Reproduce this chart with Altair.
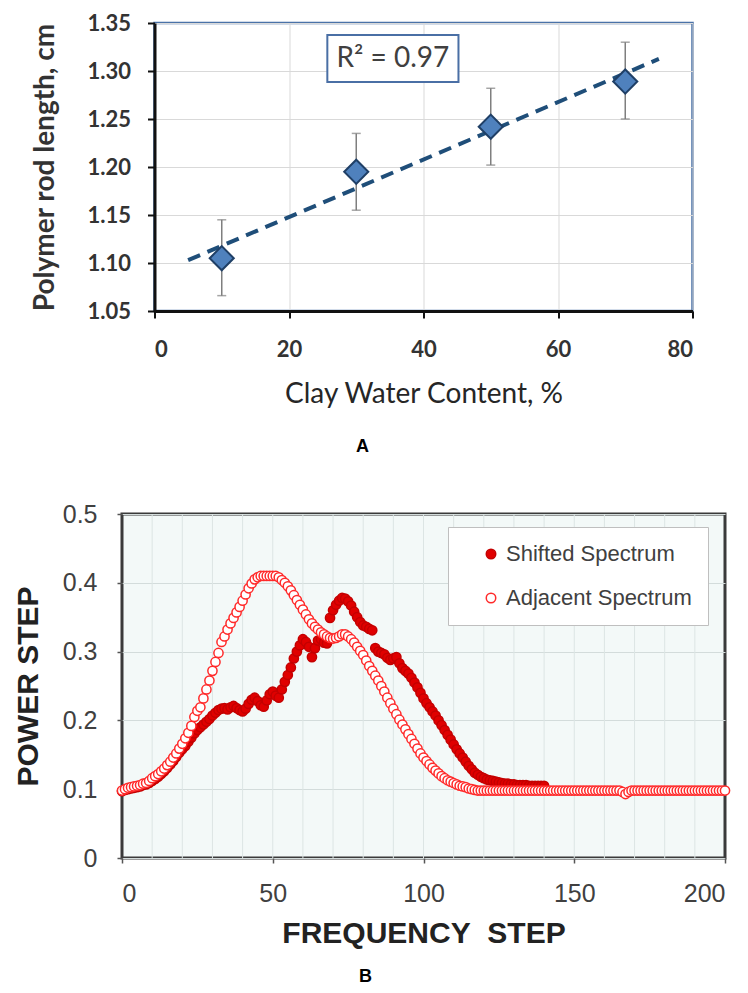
import altair as alt
import pandas as pd

# ---------------- Panel A data ----------------
water = [10, 30, 50, 70]
rod_len = [1.105, 1.195, 1.242, 1.289]
rod_low = [1.066, 1.155, 1.202, 1.250]
rod_high = [1.145, 1.235, 1.282, 1.330]
trend_extent = [5, 75]
x_ticks_a = [0, 20, 40, 60, 80]
y_ticks_a = [1.05, 1.10, 1.15, 1.20, 1.25, 1.30, 1.35]
r2_label = ["R² = 0.97"]
r2_box_x = [25.7, 45.2]
r2_box_y = [1.2885, 1.3375]
r2_text_at = [35.45, 1.3125]

# ---------------- Panel B data ----------------
adjacent = [
    0.098, 0.100, 0.102, 0.103, 0.104, 0.105, 0.106, 0.108, 0.109, 0.112,
    0.116, 0.119, 0.122, 0.126, 0.130, 0.135, 0.140, 0.146, 0.152, 0.159,
    0.166, 0.174, 0.182, 0.192, 0.205, 0.214, 0.219, 0.232, 0.245, 0.258,
    0.272, 0.285, 0.298, 0.314, 0.322, 0.332, 0.341, 0.349, 0.357, 0.365,
    0.374, 0.383, 0.392, 0.399, 0.405, 0.408, 0.410, 0.410, 0.410, 0.410,
    0.410, 0.410, 0.408, 0.404, 0.400, 0.395, 0.389, 0.382, 0.375, 0.368,
    0.361, 0.354, 0.347, 0.341, 0.336, 0.332, 0.328, 0.325, 0.322, 0.320,
    0.319, 0.320, 0.322, 0.325, 0.325, 0.322, 0.318, 0.313, 0.307, 0.301,
    0.295, 0.287, 0.279, 0.272, 0.265, 0.258, 0.250, 0.242, 0.233, 0.225,
    0.217, 0.209, 0.201, 0.194, 0.187, 0.180, 0.173, 0.166, 0.159, 0.152,
    0.146, 0.141, 0.136, 0.131, 0.127, 0.123, 0.119, 0.116, 0.113, 0.111,
    0.109, 0.107, 0.105, 0.104, 0.103, 0.101, 0.100, 0.099, 0.098, 0.098,
    0.098, 0.098, 0.098, 0.098, 0.098, 0.098, 0.098, 0.098, 0.098, 0.098,
    0.098, 0.098, 0.098, 0.098, 0.098, 0.098, 0.098, 0.098, 0.098, 0.098,
    0.098, 0.098, 0.098, 0.098, 0.098, 0.098, 0.098, 0.098, 0.098, 0.098,
    0.098, 0.098, 0.098, 0.098, 0.098, 0.098, 0.098, 0.098, 0.098, 0.098,
    0.098, 0.098, 0.098, 0.098, 0.098, 0.098, 0.096, 0.093, 0.096, 0.098,
    0.098, 0.098, 0.098, 0.098, 0.098, 0.098, 0.098, 0.098, 0.098, 0.098,
    0.098, 0.098, 0.098, 0.098, 0.098, 0.098, 0.098, 0.098, 0.098, 0.098,
    0.098, 0.098, 0.098, 0.098, 0.098, 0.098, 0.098, 0.098, 0.098, 0.098,
    0.098,
]
shifted = [
    0.097, 0.099, 0.100, 0.101, 0.102, 0.103, 0.104, 0.106, 0.107, 0.109,
    0.112, 0.115, 0.118, 0.122, 0.126, 0.131, 0.136, 0.141, 0.147, 0.153,
    0.158, 0.163, 0.169, 0.175, 0.181, 0.186, 0.190, 0.194, 0.198, 0.202,
    0.207, 0.211, 0.215, 0.217, 0.218, 0.216, 0.219, 0.221, 0.218, 0.215,
    0.213, 0.217, 0.224, 0.230, 0.233, 0.228, 0.222, 0.220, 0.229, 0.238,
    0.242, 0.236, 0.233, 0.245, 0.256, 0.266, 0.277, 0.290, 0.300, 0.309,
    0.318, 0.314, 0.307, 0.292, 0.305, 0.316, 0.318, 0.313, 0.312, 0.349,
    0.360, 0.368, 0.374, 0.378, 0.377, 0.373, 0.367, 0.358, 0.350, 0.343,
    0.338, 0.336, 0.333, 0.331, 0.305, 0.300, 0.298, 0.296, 0.291, 0.288,
    0.290, 0.292, 0.283, 0.276, 0.272, 0.268, 0.262, 0.255, 0.248, 0.240,
    0.232, 0.225, 0.219, 0.213, 0.207, 0.200, 0.193, 0.186, 0.179, 0.172,
    0.165, 0.158, 0.152, 0.146, 0.140, 0.134, 0.129, 0.124, 0.121, 0.118,
    0.116, 0.114, 0.113, 0.112, 0.111, 0.110, 0.109, 0.108, 0.108, 0.107,
    0.107, 0.106, 0.106, 0.106, 0.106, 0.105, 0.105, 0.105, 0.105, 0.105,
    0.105,
]
series_names = ["Shifted Spectrum", "Adjacent Spectrum"]
x_ticks_b = [0, 50, 100, 150, 200]
x_grid_b = [10, 20, 30, 40, 50, 60, 70, 80, 90, 100, 110, 120, 130, 140,
            150, 160, 170, 180, 190]
y_ticks_b = [0, 0.1, 0.2, 0.3, 0.4, 0.5]

# ---------------- Panel A ----------------
dfA = pd.DataFrame({"water": water, "len": rod_len, "lo": rod_low, "hi": rod_high})
boxA = pd.DataFrame({"bx0": [r2_box_x[0]], "bx1": [r2_box_x[1]],
                     "by0": [r2_box_y[0]], "by1": [r2_box_y[1]]})
txtA = pd.DataFrame({"tx": [r2_text_at[0]], "ty": [r2_text_at[1]], "label": r2_label})

xscaleA = alt.Scale(domain=[0, 80], nice=False, zero=False)
yscaleA = alt.Scale(domain=[1.05, 1.35], nice=False, zero=False)
xaxisA = alt.Axis(values=x_ticks_a, title="Clay Water Content, %", grid=True,
                  gridColor="#D9D9D9", gridWidth=1,
                  domainColor="#111111", domainWidth=3,
                  tickColor="#111111", tickWidth=2, tickSize=7,
                  labelFont="Lato", labelFontWeight="bold", labelFontSize=22,
                  labelColor="#333333", labelPadding=21,
                  titleFont="Lato", titleFontWeight="normal", titleFontSize=28,
                  titleColor="#262626", titlePadding=20)
yaxisA = alt.Axis(values=y_ticks_a, format=".2f", title="Polymer rod length, cm",
                  grid=True, gridColor="#D9D9D9", gridWidth=1,
                  domainColor="#111111", domainWidth=3,
                  tickColor="#111111", tickWidth=2, tickSize=7,
                  labelFont="Lato", labelFontWeight="bold", labelFontSize=22,
                  labelColor="#333333", labelPadding=17,
                  titleFont="Lato", titleFontWeight="bold", titleFontSize=28,
                  titleColor="#333333", titlePadding=27)

errA = alt.Chart(dfA).mark_rule(color="#7F7F7F", strokeWidth=1.5).encode(
    x=alt.X("water:Q", scale=xscaleA, axis=xaxisA),
    y=alt.Y("lo:Q", scale=yscaleA, axis=yaxisA),
    y2="hi:Q",
)
capLo = alt.Chart(dfA).mark_tick(orient="horizontal", color="#7F7F7F",
                                 size=9, thickness=1.5).encode(
    x=alt.X("water:Q", scale=xscaleA, axis=xaxisA),
    y=alt.Y("lo:Q", scale=yscaleA, axis=yaxisA),
)
capHi = alt.Chart(dfA).mark_tick(orient="horizontal", color="#7F7F7F",
                                 size=9, thickness=1.5).encode(
    x=alt.X("water:Q", scale=xscaleA, axis=xaxisA),
    y=alt.Y("hi:Q", scale=yscaleA, axis=yaxisA),
)
trendA = alt.Chart(dfA).transform_regression(
    "water", "len", extent=trend_extent
).mark_line(color="#1F4E79", strokeWidth=4, strokeDash=[13, 8]).encode(
    x=alt.X("water:Q", scale=xscaleA, axis=xaxisA),
    y=alt.Y("len:Q", scale=yscaleA, axis=yaxisA),
)
ptsA = alt.Chart(dfA).mark_point(shape="diamond", filled=True, size=580,
                                 fill="#4F81BD", stroke="#1F3F66",
                                 strokeWidth=2, opacity=1).encode(
    x=alt.X("water:Q", scale=xscaleA, axis=xaxisA),
    y=alt.Y("len:Q", scale=yscaleA, axis=yaxisA),
)
rectA = alt.Chart(boxA).mark_rect(fill="white", stroke="#4A6FA5",
                                  strokeWidth=2).encode(
    x=alt.X("bx0:Q", scale=xscaleA, axis=xaxisA), x2="bx1:Q",
    y=alt.Y("by0:Q", scale=yscaleA, axis=yaxisA), y2="by1:Q",
)
textA = alt.Chart(txtA).mark_text(font="Lato", fontSize=28, color="#404040",
                                  align="center", baseline="middle").encode(
    x=alt.X("tx:Q", scale=xscaleA, axis=xaxisA),
    y=alt.Y("ty:Q", scale=yscaleA, axis=yaxisA),
    text="label:N",
)

panelA = alt.layer(errA, capLo, capHi, trendA, ptsA, rectA, textA).properties(
    width=538, height=288,
    view=alt.ViewBackground(stroke="#4A72A8", strokeWidth=2.5, fill="white"),
    title=alt.TitleParams("A", orient="bottom", font="Liberation Sans",
                          fontSize=18, fontWeight="bold", color="black",
                          offset=30, dx=-61, anchor="middle", frame="group"),
)

# ---------------- Panel B ----------------
rows = []
for i, v in enumerate(shifted):
    rows.append({"series": series_names[0], "freq": i, "power": v})
for i, v in enumerate(adjacent):
    rows.append({"series": series_names[1], "freq": i, "power": v})
dfB = pd.DataFrame(rows)
gridB = pd.DataFrame({"g": x_grid_b})

xscaleB = alt.Scale(domain=[0, 200], nice=False, zero=False)
yscaleB = alt.Scale(domain=[0, 0.5], nice=False, zero=False)
xaxisB = alt.Axis(values=x_ticks_b, title="FREQUENCY\u00a0\u00a0STEP", grid=False,
                  domain=False, tickColor="#555555", tickSize=5, tickWidth=1.5,
                  labelFont="Liberation Sans", labelFontSize=25,
                  labelColor="#404040", labelPadding=18,
                  titleFont="Liberation Sans", titleFontWeight="bold",
                  titleFontSize=30, titleColor="#222222", titlePadding=12)
yaxisB = alt.Axis(values=y_ticks_b, format=".1~f", title="POWER STEP", grid=True,
                  gridColor="#D3DCDB", gridWidth=1.2,
                  domain=False, tickColor="#555555", tickSize=5, tickWidth=1.5,
                  labelFont="Liberation Sans", labelFontSize=25,
                  labelColor="#404040", labelPadding=20,
                  titleFont="Liberation Sans", titleFontWeight="bold",
                  titleFontSize=30, titleColor="#222222", titlePadding=19)

gridRules = alt.Chart(gridB).mark_rule(color="#DCE5E4", strokeWidth=1).encode(
    x=alt.X("g:Q", scale=xscaleB, axis=xaxisB),
)
legendB = alt.Legend(title=None, orient="none", legendX=326, legendY=13,
                     fillColor="white", strokeColor="#BFBFBF", padding=16,
                     symbolOffset=16, symbolSize=90, symbolStrokeWidth=1.5,
                     labelFont="Liberation Sans", labelFontSize=22,
                     labelColor="#404040", labelOffset=4, rowPadding=22,
                     labelLimit=400, symbolType="circle")
ptsB = alt.Chart(dfB).mark_point(shape="circle", filled=True, size=85,
                                 strokeWidth=1.5, opacity=1).encode(
    x=alt.X("freq:Q", scale=xscaleB, axis=xaxisB),
    y=alt.Y("power:Q", scale=yscaleB, axis=yaxisB),
    fill=alt.Fill("series:N", scale=alt.Scale(domain=series_names,
                                               range=["#E00000", "#FFFFFF"]),
                  legend=legendB),
    stroke=alt.Stroke("series:N", scale=alt.Scale(domain=series_names,
                                                   range=["#C40000", "#FF2A2A"]),
                      legend=legendB),
)

panelB = alt.layer(gridRules, ptsB).properties(
    width=603, height=344,
    view=alt.ViewBackground(stroke="#3A3A3A", strokeWidth=3, fill="#F3F9F8"),
    title=alt.TitleParams("B", orient="bottom", font="Liberation Sans",
                          fontSize=18, fontWeight="bold", color="black",
                          offset=20, dx=-58, anchor="middle", frame="group"),
)

chart = alt.vconcat(panelA, panelB, spacing=203, center=True,
                    bounds="flush").properties(
    padding={"left": 11, "top": 10, "right": 0, "bottom": 0},
    background="white",
).resolve_scale(x="independent", y="independent", fill="independent",
                stroke="independent")

chart.save("out.html", embed_options={"renderer": "svg", "actions": False})
